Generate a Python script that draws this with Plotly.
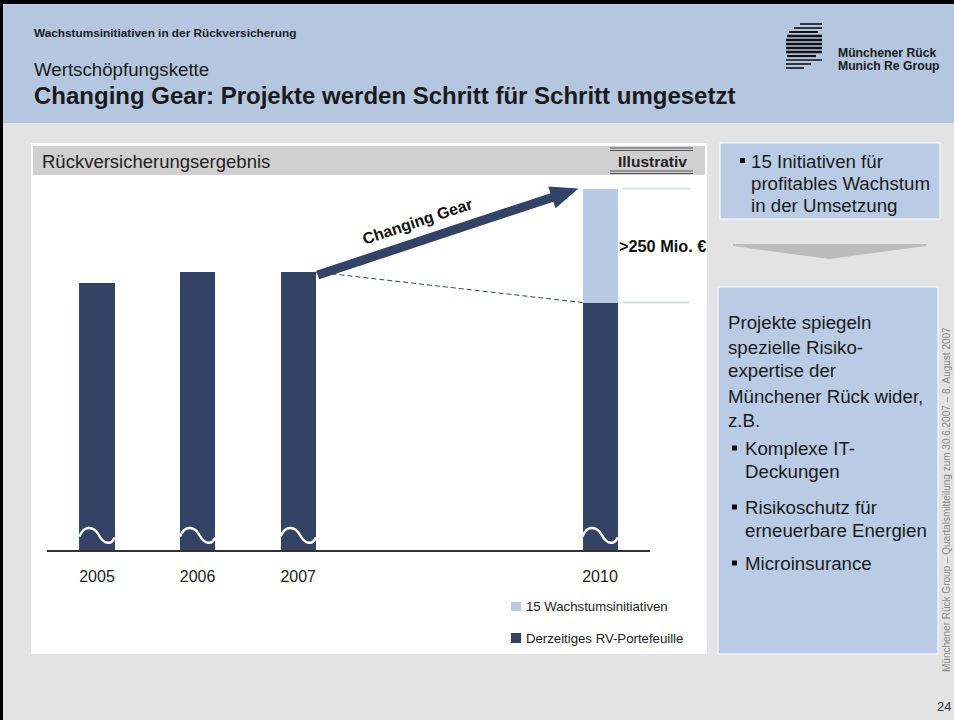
import math
import plotly.graph_objects as go

# ---------------- data ----------------
YEARS = [2005, 2006, 2007, 2010]
YEAR_LABELS = ["2005", "2006", "2007", "2010"]
PORTFOLIO = [96, 100, 100, 89]          # Derzeitiges RV-Portefeuille (Index, illustrativ)
INIT_YEARS = [2010]
INITIATIVES = [41]                       # 15 Wachstumsinitiativen (illustrativ)
SERIES_NAMES = ["Derzeitiges RV-Portefeuille", "15 Wachstumsinitiativen"]
UPLIFT_LABEL = ">250 Mio. €"
ARROW_LABEL = "Changing Gear"

# ---------------- style / geometry ----------------
W, H = 954, 720
FONT = "Liberation Sans, Arial, sans-serif"
DARK = "#334365"
LIGHT = "#b9cbe4"
HEADER_BG = "#b4c6e0"
BODY_BG = "#e3e3e3"
BOX_BG = "#b9cbe5"
TXT = "#1a1a1a"
BOX_FS = 18.7

X_PX = (47, 650)      # plot area left/right in px
Y_PX = (550, 180)     # plot area bottom/top in px
XR = (2004.503, 2010.497)
YR = (0, 133.1)
BAR_W = 0.348


def px_x(v):
    return X_PX[0] + (v - XR[0]) / (XR[1] - XR[0]) * (X_PX[1] - X_PX[0])


def px_y(v):
    return Y_PX[0] - (v - YR[0]) / (YR[1] - YR[0]) * (Y_PX[0] - Y_PX[1])


def val_y(py):
    return YR[0] + (Y_PX[0] - py) / (Y_PX[0] - Y_PX[1]) * (YR[1] - YR[0])


def PX(x):
    return x / W


def PY(y):
    return 1 - y / H


shapes = []
annotations = []


def rect(x0, y0, x1, y1, fill, line_color=None, line_width=0, layer="below"):
    shapes.append(dict(type="rect", xref="paper", yref="paper",
                       x0=PX(x0), x1=PX(x1), y0=PY(y1), y1=PY(y0),
                       fillcolor=fill, layer=layer,
                       line=dict(width=line_width, color=line_color or fill)))


def hline(x0, x1, y, color, width=1, layer="below", dash="solid"):
    shapes.append(dict(type="line", xref="paper", yref="paper",
                       x0=PX(x0), x1=PX(x1), y0=PY(y), y1=PY(y), layer=layer,
                       line=dict(color=color, width=width, dash=dash)))


def poly(points, fill, layer="below"):
    path = "M " + " L ".join(f"{PX(x):.5f},{PY(y):.5f}" for x, y in points) + " Z"
    shapes.append(dict(type="path", xref="paper", yref="paper", path=path,
                       fillcolor=fill, line=dict(width=0), layer=layer))


def txt(x, y, s, size, bold=False, color=TXT, anchor="left", angle=0, family=FONT):
    annotations.append(dict(xref="paper", yref="paper", x=PX(x), y=PY(y),
                            xanchor=anchor, yanchor="middle", showarrow=False,
                            text=f"<b>{s}</b>" if bold else s, textangle=angle,
                            font=dict(family=family, size=size, color=color)))


# ---------------- slide background ----------------
rect(0, 0, W, 123, HEADER_BG)
rect(0, 123, W, H, BODY_BG)
rect(0, 0, W, 4, "#000000")
rect(0, 0, 3, H, "#000000")

# header texts
txt(32, 33, "Wachstumsinitiativen in der Rückversicherung", 11.8, bold=True)
txt(32, 70, "Wertschöpfungskette", 18.7)
txt(32, 96, "Changing Gear: Projekte werden Schritt für Schritt umgesetzt", 24, bold=True)

# logo (stripes)
LOGO = [(24, 800, 822, 1.6), (28, 794, 822, 1.6), (32, 789, 818, 2.0),
        (36, 787, 822, 2.4), (40, 786, 822, 2.6), (44, 786, 822, 2.6),
        (48, 786, 822, 2.6), (52, 786, 822, 2.6), (56, 787, 816, 2.2),
        (60, 786, 822, 1.6), (64, 786, 811, 1.6), (68, 786, 804, 1.6)]
for y, a, b, w in LOGO:
    hline(a, b, y, "#111111", width=w)
txt(836, 53, "Münchener Rück", 12.2, bold=True)
txt(836, 66, "Munich Re Group", 12.2, bold=True)

# ---------------- chart panel ----------------
rect(31, 143, 707, 654, "#ffffff")
rect(33, 146, 705, 175, "#d0d0d0")
txt(40, 161, "Rückversicherungsergebnis", 18.5, color="#222222")
txt(652, 161, "Illustrativ", 15.5, bold=True, anchor="center", color="#222222")
for yy in (148, 150.5, 171, 173.5):
    hline(610, 693, yy, "#555555", width=1)

# legend (manual, drawn from series names)
rect(511, 602, 521, 611, LIGHT)
txt(524, 606, SERIES_NAMES[1], 13.2, color="#222222")
rect(511, 633, 521, 643, DARK)
txt(524, 638, SERIES_NAMES[0], 13.2, color="#222222")

# ---------------- right text boxes ----------------
rect(720, 143, 940, 219, BOX_BG, line_color="#ffffff", line_width=1)
rect(740, 158, 745, 163, "#111111")
txt(749, 161, "15 Initiativen für", BOX_FS)
txt(749, 183, "profitables Wachstum", BOX_FS)
txt(749, 205, "in der Umsetzung", BOX_FS)

poly([(733, 244), (926, 244), (926, 246), (829, 259), (733, 246)], "#bcbcbc")

rect(718, 287, 938, 654, BOX_BG, line_color="#ffffff", line_width=1)
para = [("Projekte spiegeln", 322), ("spezielle Risiko-", 347), ("expertise der", 371),
        ("Münchener Rück wider,", 396), ("z.B.", 420)]
for s, y in para:
    txt(726, y, s, BOX_FS)
bullets = [[("Komplexe IT-", 448), ("Deckungen", 471)],
           [("Risikoschutz für", 507), ("erneuerbare Energien", 530)],
           [("Microinsurance", 563)]]
for group in bullets:
    by = group[0][1]
    rect(732, by - 2.5, 737, by + 2.5, "#111111")
    for s, y in group:
        txt(743, y, s, BOX_FS)

# footer
txt(946, 500, "Münchener Rück Group – Quartalsmitteilung zum 30.6.2007 – 8. August 2007",
    10, color="#8a8a8a", anchor="center", angle=-90)
txt(953, 706, "24", 13, color="#333333", anchor="right")

# ---------------- bars ----------------
fig = go.Figure()
fig.add_trace(go.Bar(x=YEARS, y=PORTFOLIO, width=BAR_W, name=SERIES_NAMES[0],
                     marker=dict(color=DARK, line=dict(width=0)), hoverinfo="skip"))
fig.add_trace(go.Bar(x=INIT_YEARS, y=INITIATIVES, width=BAR_W, name=SERIES_NAMES[1],
                     marker=dict(color=LIGHT, line=dict(width=0)), hoverinfo="skip"))

# axis-break waves on each bar
unit = (Y_PX[0] - Y_PX[1]) / (YR[1] - YR[0])
yc = val_y(535)
h = 8.0 / unit
for yr in YEARS:
    x0 = yr - BAR_W / 2
    w = BAR_W
    path = (f"M {x0},{yc - 0.2*h} C {x0 + 0.12*w},{yc + 1.2*h} {x0 + 0.40*w},{yc + 1.2*h} "
            f"{x0 + 0.55*w},{yc} S {x0 + 0.92*w},{yc - 1.3*h} {x0 + w},{yc - 0.3*h}")
    shapes.append(dict(type="path", xref="x", yref="y", path=path, layer="above",
                       line=dict(color="#ffffff", width=2.5)))

i07 = YEARS.index(2007)
i10 = YEARS.index(2010)
total10 = PORTFOLIO[i10] + INITIATIVES[0]

# dashed trend line (2007 level -> 2010 current portfolio)
shapes.append(dict(type="line", xref="x", yref="y",
                   x0=YEARS[i07] + BAR_W / 2, y0=PORTFOLIO[i07],
                   x1=YEARS[i10] - BAR_W / 2, y1=PORTFOLIO[i10], layer="above",
                   line=dict(color=DARK, width=1, dash="5px,3px")))

# guide lines beside the 2010 bar
for v in (total10, PORTFOLIO[i10]):
    shapes.append(dict(type="line", xref="paper", yref="y",
                       x0=PX(px_x(2010 + BAR_W / 2) + 5), x1=PX(690), y0=v, y1=v,
                       layer="above", line=dict(color="#d3dff0", width=2)))
txt(px_x(2010 + BAR_W / 2) - 1, px_y(PORTFOLIO[i10] + INITIATIVES[0] / 2), UPLIFT_LABEL,
    16.3, bold=True, color="#111111")

# "Changing Gear" arrow
sx, sy = px_x(YEARS[i07] + BAR_W / 2) + 2, px_y(PORTFOLIO[i07]) + 3
tx, ty = px_x(YEARS[i10] - BAR_W / 2) - 4, px_y(total10)
L = math.hypot(tx - sx, ty - sy)
ux, uy = (tx - sx) / L, (ty - sy) / L
nx, ny = -uy, ux
hw, hh, hl = 4.5, 11.5, 28
bx, by_ = tx - ux * hl, ty - uy * hl
poly([(sx + nx * hw, sy + ny * hw), (bx + nx * hw, by_ + ny * hw), (bx + nx * hh, by_ + ny * hh),
      (tx, ty), (bx - nx * hh, by_ - ny * hh), (bx - nx * hw, by_ - ny * hw),
      (sx - nx * hw, sy - ny * hw)], DARK, layer="above")
ang = math.degrees(math.atan2(sy - ty, tx - sx))
t = 0.405 * L
cx, cy = sx + ux * t - nx * 20, sy + uy * t - ny * 20
if cy > sy + uy * t:
    cx, cy = sx + ux * t + nx * 20, sy + uy * t + ny * 20
txt(cx, cy, ARROW_LABEL, 16, bold=True, color="#111111", anchor="center", angle=-ang)

fig.update_layout(
    width=W, height=H, margin=dict(l=0, r=0, t=0, b=0),
    paper_bgcolor=BODY_BG, plot_bgcolor="rgba(0,0,0,0)",
    barmode="stack", showlegend=False,
    font=dict(family=FONT, color=TXT),
    xaxis=dict(domain=[PX(X_PX[0]), PX(X_PX[1])], range=list(XR),
               tickmode="array", tickvals=YEARS, ticktext=YEAR_LABELS,
               tickfont=dict(size=16, color="#222222", family=FONT),
               ticks="outside", ticklen=11, tickcolor="rgba(0,0,0,0)",
               showgrid=False, zeroline=False, showline=True,
               linecolor="#333333", linewidth=1.5, fixedrange=True),
    yaxis=dict(domain=[PY(Y_PX[0]), PY(Y_PX[1])], range=list(YR), visible=False,
               fixedrange=True),
    shapes=shapes, annotations=annotations,
)

fig.write_html("out.html", config={"displayModeBar": False},
               post_script="document.body.style.margin='0';document.body.style.padding='0';")
